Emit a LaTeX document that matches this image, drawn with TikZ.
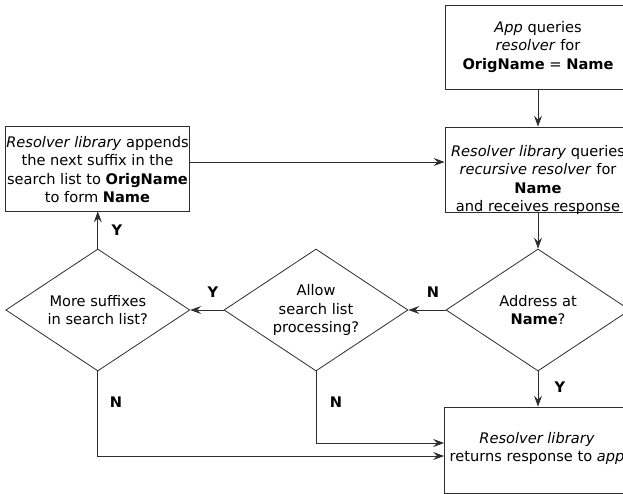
\documentclass[tikz,border=0pt]{standalone}
\usepackage{fontspec}
\setmainfont{DejaVu Sans}
\usetikzlibrary{shapes.geometric,arrows.meta}
\definecolor{ln}{RGB}{45,45,45}
\tikzset{
  box/.style={draw=ln, line width=0.8pt, rectangle, inner sep=0pt},
  dia/.style={draw=ln, line width=0.8pt, diamond, inner sep=0pt, minimum width=184pt, minimum height=122pt},
  txt/.style={align=center, inner sep=0pt, font=\fontsize{14.6pt}{18.5pt}\selectfont},
  lbl/.style={inner sep=0pt, font=\fontsize{14.6pt}{16pt}\selectfont\bfseries},
  arr/.style={draw=ln, line width=0.8pt, -{Stealth[length=11pt,width=8pt,inset=4pt]}}
}
\begin{document}
\begin{tikzpicture}[x=1pt,y=-1pt]
\clip (0,0) rectangle (623,494);
% boxes
\node[box, minimum width=186pt, minimum height=84pt] (top) at (538,47) {};
\node[txt] at (538,47) {\textit{App} queries\\\textit{resolver} for\\\textbf{OrigName} = \textbf{Name}};
\node[box, minimum width=186pt, minimum height=85pt] (query) at (538,169.5) {};
\node[txt] at (538,180) {\textit{Resolver library} queries\\\textit{recursive resolver} for\\\textbf{Name}\\and receives response};
\node[box, minimum width=183.5pt, minimum height=85pt] (append) at (97.5,168.5) {};
\node[txt] at (97.5,169.5) {\textit{Resolver library} appends\\the next suffix in the\\search list to \textbf{OrigName}\\to form \textbf{Name}};
\node[box, minimum width=187pt, minimum height=86pt] (final) at (538,450) {};
\node[txt] at (537,448.5) {\textit{Resolver library}\\returns response to \textit{app}};
% diamonds
\node[dia] (addr) at (538,310) {};
\node[txt] at (538,310) {Address at\\\textbf{Name}?};
\node[dia] (allow) at (316,310) {};
\node[txt] at (316,310) {Allow\\search list\\processing?};
\node[dia] (more) at (97.8,310) {};
\node[txt] at (97.8,310) {More suffixes\\in search list?};
% connectors
\draw[arr] (top.south) -- (query.north);
\draw[arr] (append.east |- 0,162) -- (query.west |- 0,162);
\draw[arr] (query.south) -- (addr.north);
\draw[arr] (addr.west) -- (allow.east);
\draw[arr] (allow.west) -- (more.east);
\draw[arr] (more.north) -- (append.south -| more.north);
\draw[arr] (addr.south) -- (final.north);
\draw[arr] (allow.south) |- (final.west |- 0,443);
\draw[arr] (more.south) |- (final.west |- 0,456);
% labels
\node[lbl] (lN1) at (433,292) {N};
\node[lbl] (lY1) at (213,292) {Y};
\node[lbl] (lY2) at (117,230) {Y};
\node[lbl] (lN2) at (116,402) {N};
\node[lbl] (lN3) at (336,402) {N};
\node[lbl] (lY3) at (560,387) {Y};
\end{tikzpicture}
\end{document}
